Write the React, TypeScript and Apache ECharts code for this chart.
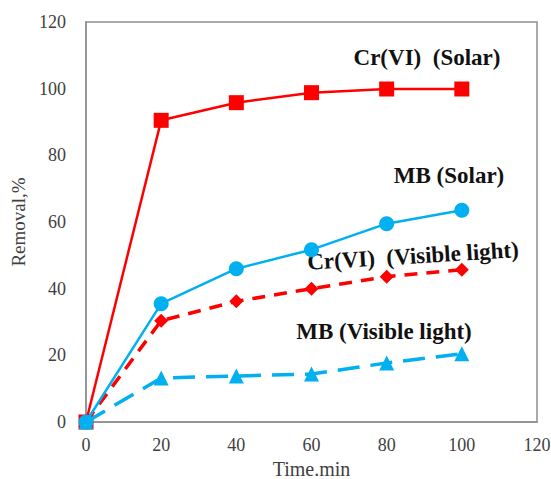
import React, { useEffect, useRef } from "react";
import * as echarts from "echarts";

const times = [0, 20, 40, 60, 80, 100];
const crSolar = [0, 90.5, 95.8, 98.8, 99.9, 99.9];
const mbSolar = [0, 35.5, 46, 51.7, 59.5, 63.5];
const crVisible = [0, 30.4, 36.2, 40, 43.6, 45.7];
const mbVisible = [0, 13.2, 13.8, 14.4, 17.7, 20.5];
const xTicks = [0, 20, 40, 60, 80, 100, 120];
const yTicks = [0, 20, 40, 60, 80, 100, 120];
const seriesNames = ["Cr(VI)  (Solar)", "MB (Solar)", "Cr(VI)  (Visible light)", "MB (Visible light)"];

const RED = "#FF0000";
const CYAN = "#00B0F0";
const SERIF = "Liberation Serif";

function pairs(vals: number[]) {
  return times.map((t, i) => [t, vals[i]]);
}

export default function App() {
  const ref = useRef<HTMLDivElement>(null);
  useEffect(() => {
    document.body.style.margin = "0";
    const chart = echarts.init(ref.current!, undefined, { renderer: "svg" });
    const labelStyle = { fontFamily: SERIF, fontSize: 18, color: "#404040" };
    const annot = (text: string, x: number, y: number, rot = 0) => ({
      type: "text",
      x,
      y,
      rotation: rot,
      style: {
        text,
        fontFamily: SERIF,
        fontWeight: "bold",
        fontSize: 23,
        fill: "#111",
        align: "center",
        verticalAlign: "middle",
      },
    });
    chart.setOption({
      animation: false,
      backgroundColor: "#fff",
      grid: {
        left: 86,
        right: 14,
        top: 22,
        bottom: 57,
        outerBoundsMode: "none",
        containLabel: false,
        show: true,
        borderColor: "#8f8f8f",
        borderWidth: 1.5,
        backgroundColor: "transparent",
      },
      xAxis: {
        type: "value",
        min: 0,
        max: 120,
        interval: 20,
        name: "Time.min",
        nameLocation: "middle",
        nameGap: 35,
        nameTextStyle: { fontFamily: SERIF, fontSize: 20, color: "#404040" },
        axisLine: { show: true, lineStyle: { color: "#8f8f8f", width: 1.5 } },
        axisTick: { show: false },
        splitLine: { show: false },
        axisLabel: {
          ...labelStyle,
          margin: 14,
          formatter: (v: number) => (xTicks.includes(v) ? String(v) : ""),
        },
      },
      yAxis: {
        type: "value",
        min: 0,
        max: 120,
        interval: 20,
        name: "Removal,%",
        nameLocation: "middle",
        nameGap: 58,
        nameRotate: 90,
        nameTextStyle: { fontFamily: SERIF, fontSize: 19, color: "#404040" },
        axisLine: { show: true, lineStyle: { color: "#8f8f8f", width: 1.5 } },
        axisTick: { show: false },
        splitLine: { show: false },
        axisLabel: {
          ...labelStyle,
          margin: 20,
          formatter: (v: number) => (yTicks.includes(v) ? String(v) : ""),
        },
      },
      series: [
        {
          name: seriesNames[0],
          type: "line",
          data: pairs(crSolar),
          symbol: "rect",
          symbolSize: 15,
          lineStyle: { color: RED, width: 2.5 },
          itemStyle: { color: RED },
          z: 2,
        },
        {
          name: seriesNames[2],
          type: "line",
          data: pairs(crVisible),
          symbol: "diamond",
          symbolSize: 14,
          lineStyle: { color: RED, width: 3.5, type: [13, 9] },
          itemStyle: { color: RED },
          z: 3,
        },
        {
          name: seriesNames[3],
          type: "line",
          data: pairs(mbVisible),
          symbol: "triangle",
          symbolSize: 15,
          lineStyle: { color: CYAN, width: 3.5, type: [22, 11] },
          itemStyle: { color: CYAN },
          z: 4,
        },
        {
          name: seriesNames[1],
          type: "line",
          data: pairs(mbSolar),
          symbol: "circle",
          symbolSize: 15,
          lineStyle: { color: CYAN, width: 2.5 },
          itemStyle: { color: CYAN },
          z: 5,
        },
      ],
      graphic: [
        annot(seriesNames[0], 427, 57),
        annot(seriesNames[1], 449, 175),
        annot(seriesNames[2], 413, 256, 0.06),
        annot(seriesNames[3], 384, 331),
      ],
    });
    return () => chart.dispose();
  }, []);
  return <div ref={ref} style={{ width: 551, height: 479 }} />;
}
